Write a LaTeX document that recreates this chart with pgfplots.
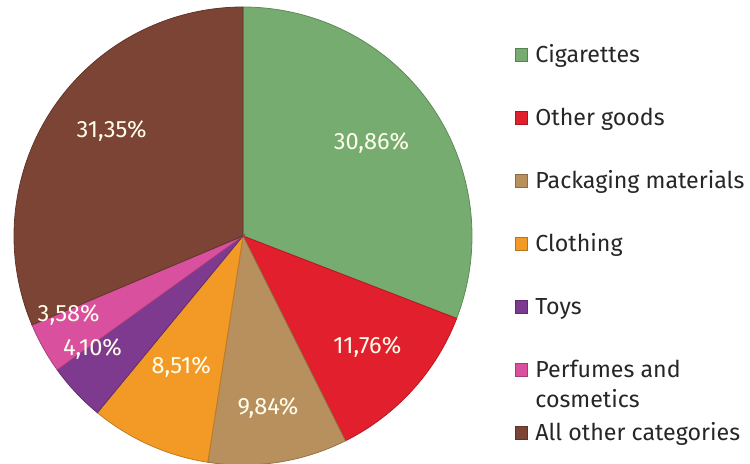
\documentclass[border=0pt]{standalone}
\usepackage{fontspec}
\setmainfont{Fira Sans}
\usepackage{pgfplots}
\pgfplotsset{compat=1.18}
\definecolor{cCig}{HTML}{76AC6F}
\definecolor{cOth}{HTML}{E21F2C}
\definecolor{cPack}{HTML}{B8905E}
\definecolor{cCloth}{HTML}{F29A25}
\definecolor{cToys}{HTML}{7E3A8E}
\definecolor{cPerf}{HTML}{D9509E}
\definecolor{cAll}{HTML}{7B4434}
% slice values (percent), clockwise from top
\pgfmathsetmacro\vA{30.86}
\pgfmathsetmacro\vB{11.76}
\pgfmathsetmacro\vC{9.84}
\pgfmathsetmacro\vD{8.51}
\pgfmathsetmacro\vE{4.10}
\pgfmathsetmacro\vF{3.58}
\pgfmathsetmacro\vG{31.35}
\pgfmathsetmacro\aA{90}
\pgfmathsetmacro\aB{\aA-3.6*\vA}
\pgfmathsetmacro\aC{\aB-3.6*\vB}
\pgfmathsetmacro\aD{\aC-3.6*\vC}
\pgfmathsetmacro\aE{\aD-3.6*\vD}
\pgfmathsetmacro\aF{\aE-3.6*\vE}
\pgfmathsetmacro\aG{\aF-3.6*\vF}
\pgfmathsetmacro\aH{\aG-3.6*\vG}
\begin{document}
\begin{tikzpicture}
\begin{axis}[
  hide axis, x=114.5pt, y=114.5pt,
  xmin=-1, xmax=1, ymin=-1, ymax=1,
  at={(121.5pt,114pt)}, anchor=center, clip=false,
  samples=80,
]
\addplot[fill=cCig, draw=cCig!80!black, line width=0.4pt, domain=\aB:\aA] ({cos(x)},{sin(x)}) -- (axis cs:0,0) -- cycle;
\addplot[fill=cOth, draw=cOth!80!black, line width=0.4pt, domain=\aC:\aB] ({cos(x)},{sin(x)}) -- (axis cs:0,0) -- cycle;
\addplot[fill=cPack, draw=cPack!80!black, line width=0.4pt, domain=\aD:\aC] ({cos(x)},{sin(x)}) -- (axis cs:0,0) -- cycle;
\addplot[fill=cCloth, draw=cCloth!80!black, line width=0.4pt, domain=\aE:\aD] ({cos(x)},{sin(x)}) -- (axis cs:0,0) -- cycle;
\addplot[fill=cToys, draw=cToys!80!black, line width=0.4pt, domain=\aF:\aE] ({cos(x)},{sin(x)}) -- (axis cs:0,0) -- cycle;
\addplot[fill=cPerf, draw=cPerf!80!black, line width=0.4pt, domain=\aG:\aF] ({cos(x)},{sin(x)}) -- (axis cs:0,0) -- cycle;
\addplot[fill=cAll, draw=cAll!80!black, line width=0.4pt, domain=\aH:\aG] ({cos(x)},{sin(x)}) -- (axis cs:0,0) -- cycle;
\begin{scope}[every node/.style={text=white!93!yellow, font=\fontsize{11.8}{13}\selectfont}]
\node at (axis cs:0.561,0.405) {30,86\%};
\node at (axis cs:0.543,-0.486) {11,76\%};
\node at (axis cs:0.109,-0.752) {9,84\%};
\node at (axis cs:-0.270,-0.573) {8,51\%};
\node at (axis cs:-0.657,-0.495) {4,10\%};
\node at (axis cs:-0.761,-0.347) {3,58\%};
\node at (axis cs:-0.574,0.457) {31,35\%};
\end{scope}
\end{axis}
\begin{scope}[every node/.style={font=\fontsize{11.6}{15}\selectfont, text=black!85, anchor=base west, inner sep=0pt}]
\foreach \c/\t [count=\i from 0] in {cCig/Cigarettes, cOth/Other goods, cPack/Packaging materials, cCloth/Clothing, cToys/Toys, cPerf/Perfumes and, cAll/All other categories}{
  \pgfmathsetmacro\yy{232-27.5-31.5*\i}
  \fill[\c, draw=\c!75!black, line width=0.3pt] (257.5pt,\yy pt-3.2pt) rectangle ++(6.3pt,6.3pt);
  \node at (267.5pt,\yy pt-3.9pt) {\t};
}
\node at (267.5pt,232pt-27.5pt-31.5pt*5-3.9pt-14.8pt) {cosmetics};
\end{scope}
\pgfresetboundingbox
\useasboundingbox (0,0) rectangle (375pt,232pt);
\end{tikzpicture}
\end{document}
